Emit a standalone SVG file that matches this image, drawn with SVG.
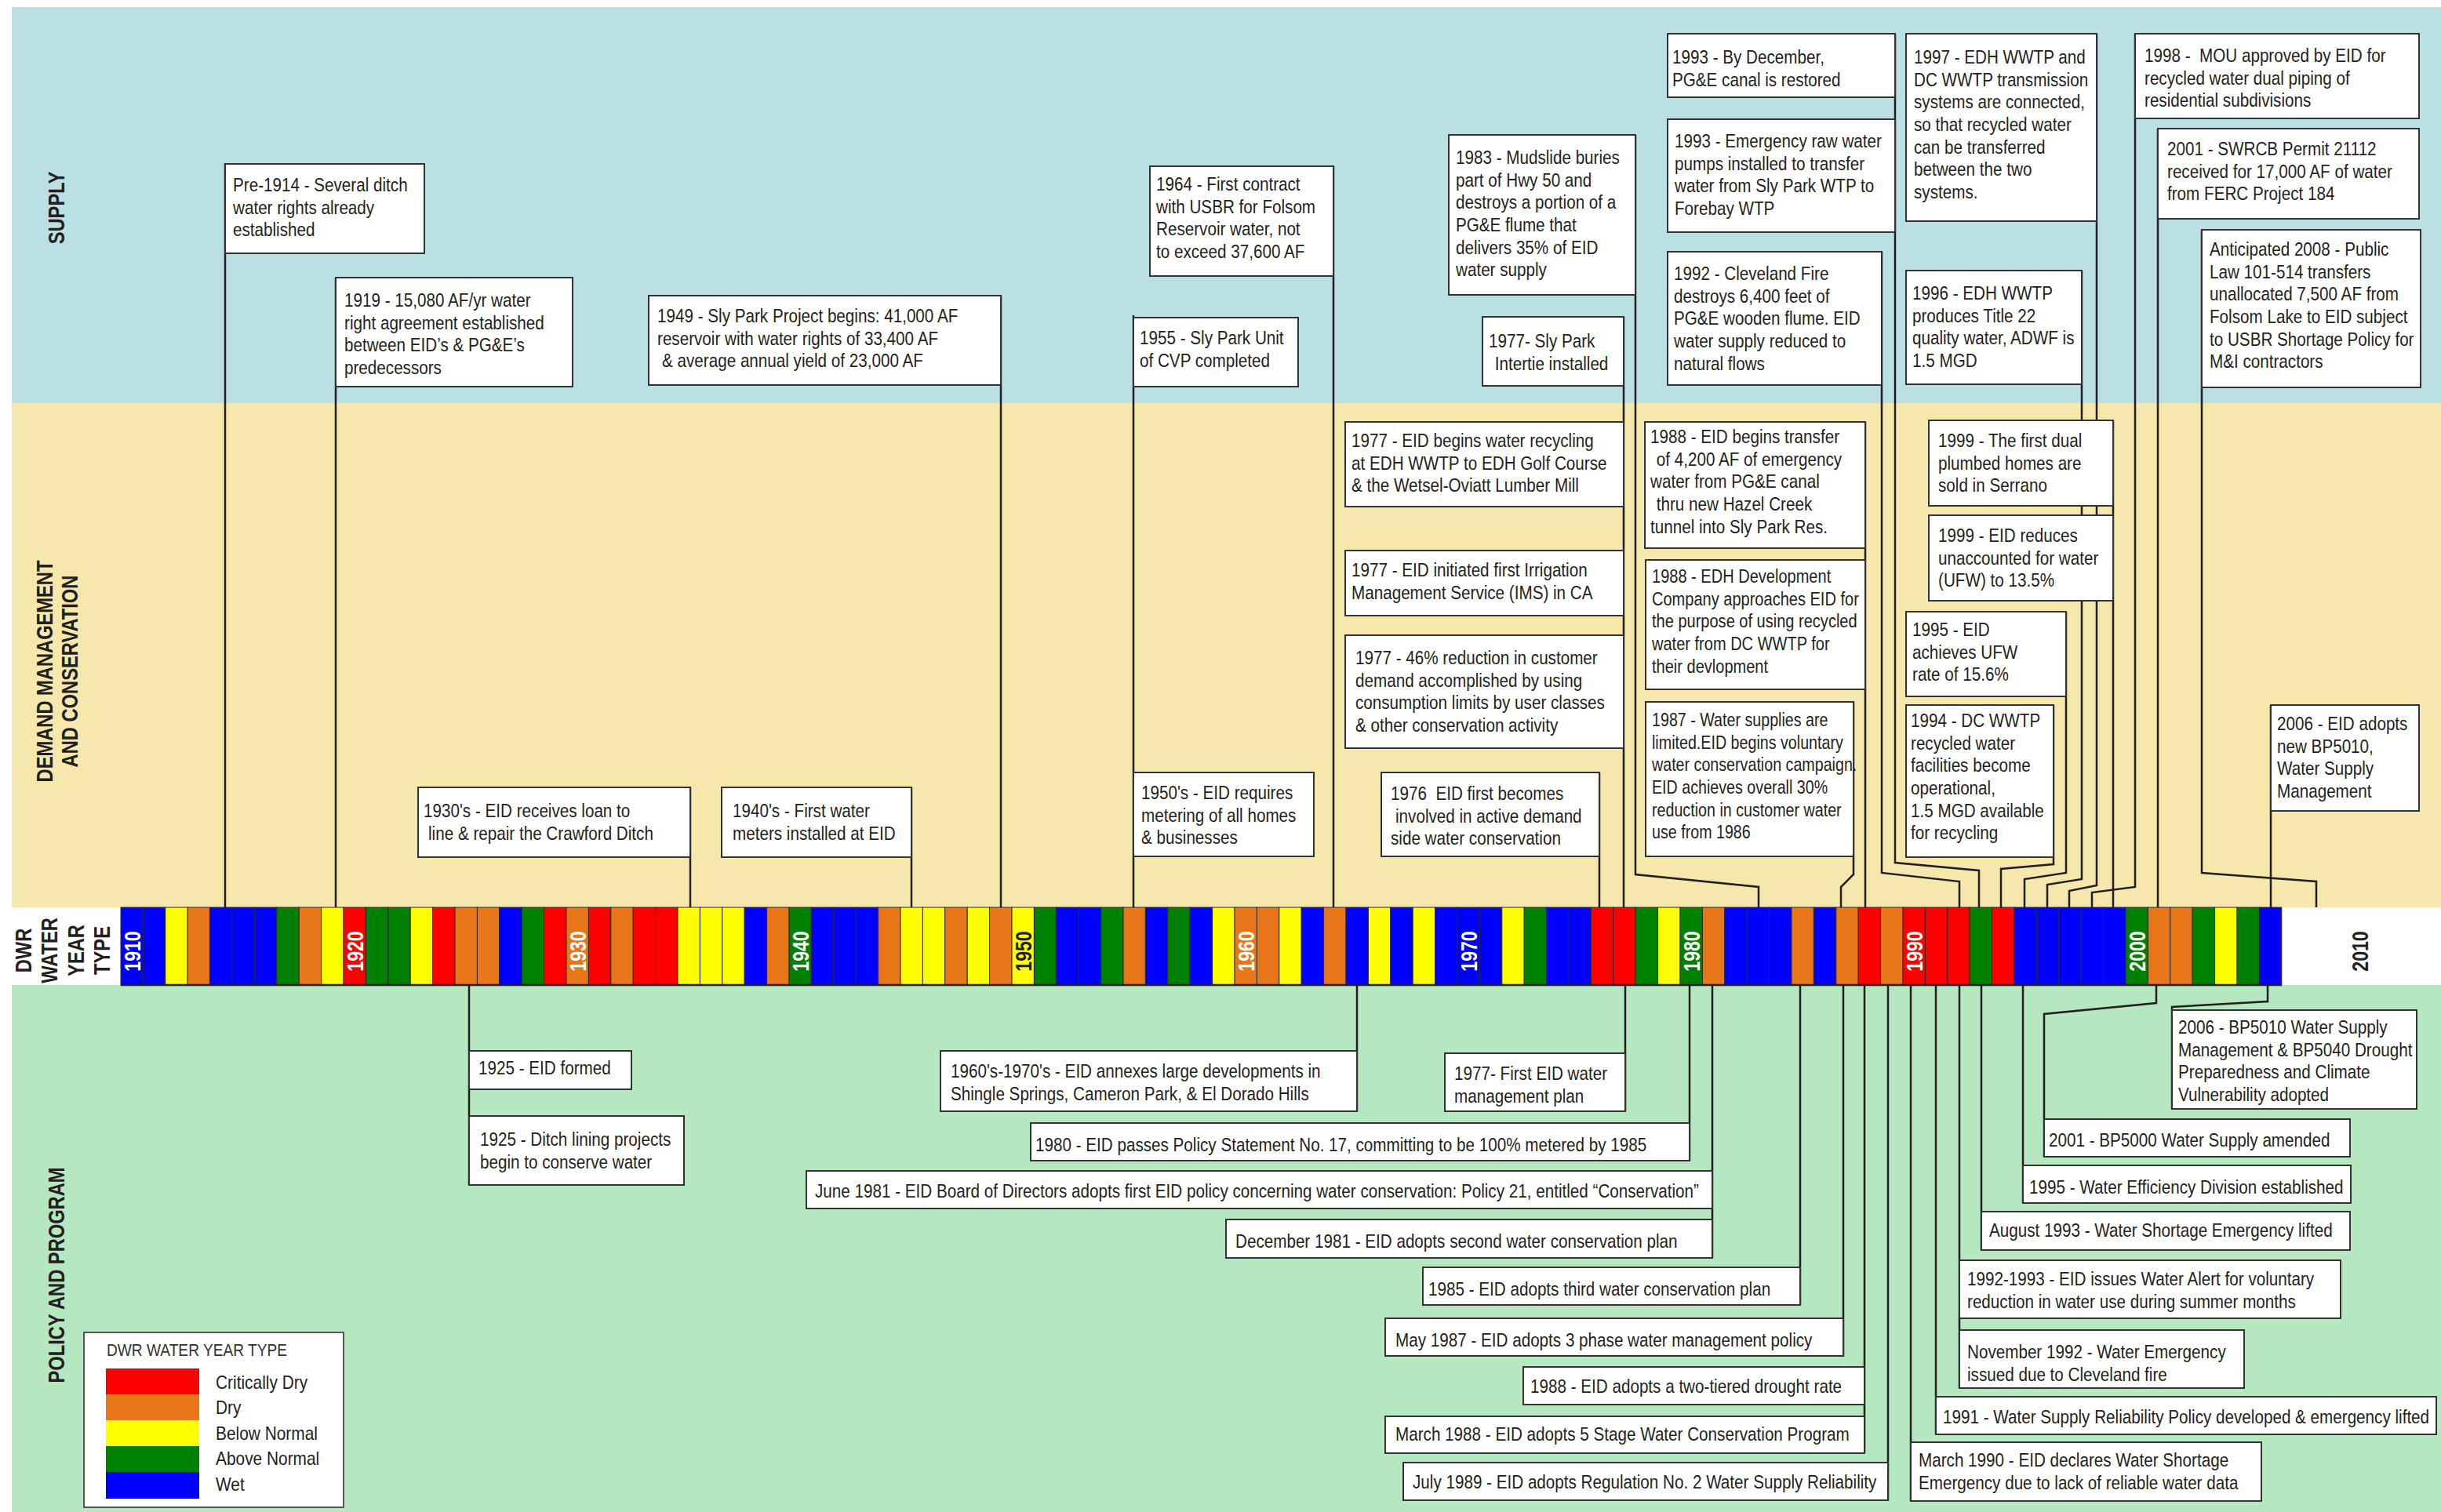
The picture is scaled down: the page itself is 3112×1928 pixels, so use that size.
<svg xmlns="http://www.w3.org/2000/svg" width="3112" height="1928" viewBox="0 0 3112 1928">
<style>
.t{font-family:"Liberation Sans",Arial,sans-serif;font-size:24px;fill:#231f20}
.box{fill:#fff;stroke:#333;stroke-width:2}
.con{fill:none;stroke:#231f20;stroke-width:2.5}
.lbl{font-family:"Liberation Sans",Arial,sans-serif;font-size:30px;font-weight:bold;fill:#231f20}
.yr{font-family:"Liberation Sans",Arial,sans-serif;font-size:30px;font-weight:bold;fill:#fff}
.cell{stroke:#2a2a2a;stroke-width:1}
.C{fill:#ff0000}.D{fill:#e8771a}.BN{fill:#ffff00}.AN{fill:#008000}.W{fill:#0000ff}
</style>
<rect x="0" y="0" width="3112" height="1928" fill="#fff"/>
<g id="backgrounds">
<rect x="15" y="9" width="3097" height="505" fill="#bae0e4"/>
<rect x="15" y="514" width="3097" height="643" fill="#f6e8ac"/>
<rect x="15" y="1256" width="3097" height="672" fill="#b5e8c1"/>
</g>
<g id="section-labels">
<text class="lbl" text-anchor="middle" transform="translate(82,265) rotate(-90) scale(0.79,1)">SUPPLY</text>
<text class="lbl" text-anchor="middle" transform="translate(67,856) rotate(-90) scale(0.79,1)">DEMAND MANAGEMENT</text>
<text class="lbl" text-anchor="middle" transform="translate(99,856) rotate(-90) scale(0.79,1)">AND CONSERVATION</text>
<text class="lbl" text-anchor="middle" transform="translate(82,1626) rotate(-90) scale(0.79,1)">POLICY AND PROGRAM</text>
<text class="lbl" text-anchor="middle" transform="translate(40,1212) rotate(-90) scale(0.79,1)">DWR</text>
<text class="lbl" text-anchor="middle" transform="translate(73,1212) rotate(-90) scale(0.79,1)">WATER</text>
<text class="lbl" text-anchor="middle" transform="translate(107,1212) rotate(-90) scale(0.79,1)">YEAR</text>
<text class="lbl" text-anchor="middle" transform="translate(140,1212) rotate(-90) scale(0.79,1)">TYPE</text>
</g>
<g id="water-year-bar">
<rect class="cell W" x="154" y="1157" width="28.4" height="99"/>
<rect class="cell W" x="182.4" y="1157" width="28.4" height="99"/>
<rect class="cell BN" x="210.8" y="1157" width="28.4" height="99"/>
<rect class="cell D" x="239.2" y="1157" width="28.4" height="99"/>
<rect class="cell W" x="267.6" y="1157" width="28.4" height="99"/>
<rect class="cell W" x="296" y="1157" width="28.4" height="99"/>
<rect class="cell W" x="324.4" y="1157" width="28.4" height="99"/>
<rect class="cell AN" x="352.8" y="1157" width="28.4" height="99"/>
<rect class="cell D" x="381.2" y="1157" width="28.4" height="99"/>
<rect class="cell BN" x="409.6" y="1157" width="28.4" height="99"/>
<rect class="cell C" x="438" y="1157" width="28.4" height="99"/>
<rect class="cell AN" x="466.4" y="1157" width="28.4" height="99"/>
<rect class="cell AN" x="494.8" y="1157" width="28.4" height="99"/>
<rect class="cell BN" x="523.2" y="1157" width="28.4" height="99"/>
<rect class="cell C" x="551.6" y="1157" width="28.4" height="99"/>
<rect class="cell D" x="580" y="1157" width="28.4" height="99"/>
<rect class="cell D" x="608.4" y="1157" width="28.4" height="99"/>
<rect class="cell W" x="636.8" y="1157" width="28.4" height="99"/>
<rect class="cell AN" x="665.2" y="1157" width="28.4" height="99"/>
<rect class="cell C" x="693.6" y="1157" width="28.4" height="99"/>
<rect class="cell D" x="722" y="1157" width="28.4" height="99"/>
<rect class="cell C" x="750.4" y="1157" width="28.4" height="99"/>
<rect class="cell D" x="778.8" y="1157" width="28.4" height="99"/>
<rect class="cell C" x="807.2" y="1157" width="28.4" height="99"/>
<rect class="cell C" x="835.6" y="1157" width="28.4" height="99"/>
<rect class="cell BN" x="864" y="1157" width="28.4" height="99"/>
<rect class="cell BN" x="892.4" y="1157" width="28.4" height="99"/>
<rect class="cell BN" x="920.8" y="1157" width="28.4" height="99"/>
<rect class="cell W" x="949.2" y="1157" width="28.4" height="99"/>
<rect class="cell D" x="977.6" y="1157" width="28.4" height="99"/>
<rect class="cell AN" x="1006" y="1157" width="28.4" height="99"/>
<rect class="cell W" x="1034.4" y="1157" width="28.4" height="99"/>
<rect class="cell W" x="1062.8" y="1157" width="28.4" height="99"/>
<rect class="cell W" x="1091.2" y="1157" width="28.4" height="99"/>
<rect class="cell D" x="1119.6" y="1157" width="28.4" height="99"/>
<rect class="cell BN" x="1148" y="1157" width="28.4" height="99"/>
<rect class="cell BN" x="1176.4" y="1157" width="28.4" height="99"/>
<rect class="cell D" x="1204.8" y="1157" width="28.4" height="99"/>
<rect class="cell BN" x="1233.2" y="1157" width="28.4" height="99"/>
<rect class="cell D" x="1261.6" y="1157" width="28.4" height="99"/>
<rect class="cell BN" x="1290" y="1157" width="28.4" height="99"/>
<rect class="cell AN" x="1318.4" y="1157" width="28.4" height="99"/>
<rect class="cell W" x="1346.8" y="1157" width="28.4" height="99"/>
<rect class="cell W" x="1375.2" y="1157" width="28.4" height="99"/>
<rect class="cell AN" x="1403.6" y="1157" width="28.4" height="99"/>
<rect class="cell D" x="1432" y="1157" width="28.4" height="99"/>
<rect class="cell W" x="1460.4" y="1157" width="28.4" height="99"/>
<rect class="cell AN" x="1488.8" y="1157" width="28.4" height="99"/>
<rect class="cell W" x="1517.2" y="1157" width="28.4" height="99"/>
<rect class="cell BN" x="1545.6" y="1157" width="28.4" height="99"/>
<rect class="cell D" x="1574" y="1157" width="28.4" height="99"/>
<rect class="cell D" x="1602.4" y="1157" width="28.4" height="99"/>
<rect class="cell BN" x="1630.8" y="1157" width="28.4" height="99"/>
<rect class="cell W" x="1659.2" y="1157" width="28.4" height="99"/>
<rect class="cell D" x="1687.6" y="1157" width="28.4" height="99"/>
<rect class="cell W" x="1716" y="1157" width="28.4" height="99"/>
<rect class="cell BN" x="1744.4" y="1157" width="28.4" height="99"/>
<rect class="cell W" x="1772.8" y="1157" width="28.4" height="99"/>
<rect class="cell BN" x="1801.2" y="1157" width="28.4" height="99"/>
<rect class="cell W" x="1829.6" y="1157" width="28.4" height="99"/>
<rect class="cell W" x="1858" y="1157" width="28.4" height="99"/>
<rect class="cell W" x="1886.4" y="1157" width="28.4" height="99"/>
<rect class="cell BN" x="1914.8" y="1157" width="28.4" height="99"/>
<rect class="cell AN" x="1943.2" y="1157" width="28.4" height="99"/>
<rect class="cell W" x="1971.6" y="1157" width="28.4" height="99"/>
<rect class="cell W" x="2000" y="1157" width="28.4" height="99"/>
<rect class="cell C" x="2028.4" y="1157" width="28.4" height="99"/>
<rect class="cell C" x="2056.8" y="1157" width="28.4" height="99"/>
<rect class="cell AN" x="2085.2" y="1157" width="28.4" height="99"/>
<rect class="cell BN" x="2113.6" y="1157" width="28.4" height="99"/>
<rect class="cell AN" x="2142" y="1157" width="28.4" height="99"/>
<rect class="cell D" x="2170.4" y="1157" width="28.4" height="99"/>
<rect class="cell W" x="2198.8" y="1157" width="28.4" height="99"/>
<rect class="cell W" x="2227.2" y="1157" width="28.4" height="99"/>
<rect class="cell W" x="2255.6" y="1157" width="28.4" height="99"/>
<rect class="cell D" x="2284" y="1157" width="28.4" height="99"/>
<rect class="cell W" x="2312.4" y="1157" width="28.4" height="99"/>
<rect class="cell D" x="2340.8" y="1157" width="28.4" height="99"/>
<rect class="cell C" x="2369.2" y="1157" width="28.4" height="99"/>
<rect class="cell D" x="2397.6" y="1157" width="28.4" height="99"/>
<rect class="cell C" x="2426" y="1157" width="28.4" height="99"/>
<rect class="cell C" x="2454.4" y="1157" width="28.4" height="99"/>
<rect class="cell C" x="2482.8" y="1157" width="28.4" height="99"/>
<rect class="cell AN" x="2511.2" y="1157" width="28.4" height="99"/>
<rect class="cell C" x="2539.6" y="1157" width="28.4" height="99"/>
<rect class="cell W" x="2568" y="1157" width="28.4" height="99"/>
<rect class="cell W" x="2596.4" y="1157" width="28.4" height="99"/>
<rect class="cell W" x="2624.8" y="1157" width="28.4" height="99"/>
<rect class="cell W" x="2653.2" y="1157" width="28.4" height="99"/>
<rect class="cell W" x="2681.6" y="1157" width="28.4" height="99"/>
<rect class="cell AN" x="2710" y="1157" width="28.4" height="99"/>
<rect class="cell D" x="2738.4" y="1157" width="28.4" height="99"/>
<rect class="cell D" x="2766.8" y="1157" width="28.4" height="99"/>
<rect class="cell AN" x="2795.2" y="1157" width="28.4" height="99"/>
<rect class="cell BN" x="2823.6" y="1157" width="28.4" height="99"/>
<rect class="cell AN" x="2852" y="1157" width="28.4" height="99"/>
<rect class="cell W" x="2880.4" y="1157" width="28.4" height="99"/>
<line x1="154" y1="1256" x2="2909" y2="1256" stroke="#231f20" stroke-width="2.5"/>
<text class="yr" text-anchor="middle" transform="translate(179.2,1213) rotate(-90) scale(0.77,1)">1910</text>
<text class="yr" text-anchor="middle" transform="translate(463.2,1213) rotate(-90) scale(0.77,1)">1920</text>
<text class="yr" text-anchor="middle" transform="translate(747.2,1213) rotate(-90) scale(0.77,1)">1930</text>
<text class="yr" text-anchor="middle" transform="translate(1031.2,1213) rotate(-90) scale(0.77,1)">1940</text>
<text class="yr" text-anchor="middle" style="fill:#231f20" transform="translate(1315.2,1213) rotate(-90) scale(0.77,1)">1950</text>
<text class="yr" text-anchor="middle" transform="translate(1599.2,1213) rotate(-90) scale(0.77,1)">1960</text>
<text class="yr" text-anchor="middle" transform="translate(1883.2,1213) rotate(-90) scale(0.77,1)">1970</text>
<text class="yr" text-anchor="middle" transform="translate(2167.2,1213) rotate(-90) scale(0.77,1)">1980</text>
<text class="yr" text-anchor="middle" transform="translate(2451.2,1213) rotate(-90) scale(0.77,1)">1990</text>
<text class="yr" text-anchor="middle" transform="translate(2735.2,1213) rotate(-90) scale(0.77,1)">2000</text>
<text class="yr" text-anchor="middle" style="fill:#231f20" transform="translate(3019.2,1213) rotate(-90) scale(0.77,1)">2010</text>
</g>
<g id="connectors">
<path class="con" d="M287,209V1157"/>
<path class="con" d="M428,354V1157"/>
<path class="con" d="M1276,377V1157"/>
<path class="con" d="M1700,212V1157"/>
<path class="con" d="M1445,402V1157"/>
<path class="con" d="M2085,172V1115L2242,1131V1157"/>
<path class="con" d="M2070,404V1157"/>
<path class="con" d="M2416,43V1100L2523,1110V1157"/>
<path class="con" d="M2399,321V1113L2498,1124V1157"/>
<path class="con" d="M2673,43V1129L2638,1136V1157"/>
<path class="con" d="M2654,345V1121L2610,1128V1157"/>
<path class="con" d="M2722,43V1131L2667,1138V1157"/>
<path class="con" d="M2751,164V1157"/>
<path class="con" d="M2807,293V1113L2953,1124V1157"/>
<path class="con" d="M880,1004V1157"/>
<path class="con" d="M1162,1004V1157"/>
<path class="con" d="M2039,985V1157"/>
<path class="con" d="M2378,538V1157"/>
<path class="con" d="M2363,895V1115L2347,1131V1157"/>
<path class="con" d="M2694,536V1157"/>
<path class="con" d="M2634,780V1113L2581,1121V1157"/>
<path class="con" d="M2618,899V1102L2551,1108V1157"/>
<path class="con" d="M2895,899V1157"/>
<path class="con" d="M598,1256V1511"/>
<path class="con" d="M1730,1256V1417"/>
<path class="con" d="M2072,1256V1417"/>
<path class="con" d="M2154,1256V1480"/>
<path class="con" d="M2183,1256V1604"/>
<path class="con" d="M2295,1256V1664"/>
<path class="con" d="M2350,1256V1729"/>
<path class="con" d="M2377,1256V1853"/>
<path class="con" d="M2407,1256V1913"/>
<path class="con" d="M2436,1256V1914"/>
<path class="con" d="M2468,1256V1829"/>
<path class="con" d="M2498,1256V1770"/>
<path class="con" d="M2526,1256V1594"/>
<path class="con" d="M2579,1256V1534"/>
<path class="con" d="M2749,1256V1279L2606,1293V1475"/>
<path class="con" d="M2891,1256V1277L2769,1284V1414"/>
</g>
<g id="n-pre1914"><rect class="box" x="287" y="209" width="254" height="114"/><text class="t" transform="translate(297,244) scale(0.861,1)"><tspan x="0" y="0">Pre-1914 - Several ditch</tspan><tspan x="0" y="28.7">water rights already</tspan><tspan x="0" y="57.4">established</tspan></text></g>
<g id="n-1919"><rect class="box" x="428" y="354" width="302" height="139"/><text class="t" transform="translate(439,391) scale(0.861,1)"><tspan x="0" y="0">1919 - 15,080 AF/yr water</tspan><tspan x="0" y="28.7">right agreement established</tspan><tspan x="0" y="57.4">between EID’s &amp; PG&amp;E’s</tspan><tspan x="0" y="86.1">predecessors</tspan></text></g>
<g id="n-1949"><rect class="box" x="827" y="377" width="449" height="114"/><text class="t" transform="translate(838,411) scale(0.861,1)"><tspan x="0" y="0">1949 - Sly Park Project begins: 41,000 AF</tspan><tspan x="0" y="28.7">reservoir with water rights of 33,400 AF</tspan><tspan x="7" y="57.4">&amp; average annual yield of 23,000 AF</tspan></text></g>
<g id="n-1964"><rect class="box" x="1466" y="212" width="234" height="140"/><text class="t" transform="translate(1474,243) scale(0.861,1)"><tspan x="0" y="0">1964 - First contract</tspan><tspan x="0" y="28.7">with USBR for Folsom</tspan><tspan x="0" y="57.4">Reservoir water, not</tspan><tspan x="0" y="86.1">to exceed 37,600 AF</tspan></text></g>
<g id="n-1955"><rect class="box" x="1445" y="405" width="210" height="88"/><text class="t" transform="translate(1453,439) scale(0.861,1)"><tspan x="0" y="0">1955 - Sly Park Unit</tspan><tspan x="0" y="28.7">of CVP completed</tspan></text></g>
<g id="n-1983"><rect class="box" x="1847" y="172" width="238" height="204"/><text class="t" transform="translate(1856,209) scale(0.861,1)"><tspan x="0" y="0">1983 - Mudslide buries</tspan><tspan x="0" y="28.7">part of Hwy 50 and</tspan><tspan x="0" y="57.4">destroys a portion of a</tspan><tspan x="0" y="86.1">PG&amp;E flume that</tspan><tspan x="0" y="114.8">delivers 35% of EID</tspan><tspan x="0" y="143.5">water supply</tspan></text></g>
<g id="n-1977sly"><rect class="box" x="1890" y="404" width="180" height="88"/><text class="t" transform="translate(1898,443) scale(0.861,1)"><tspan x="0" y="0">1977- Sly Park</tspan><tspan x="9" y="28.7">Intertie installed</tspan></text></g>
<g id="n-1993dec"><rect class="box" x="2126" y="43" width="290" height="81"/><text class="t" transform="translate(2132,81) scale(0.861,1)"><tspan x="0" y="0">1993 - By December,</tspan><tspan x="0" y="28.7">PG&amp;E canal is restored</tspan></text></g>
<g id="n-1993pumps"><rect class="box" x="2126" y="152" width="290" height="144"/><text class="t" transform="translate(2135,188) scale(0.861,1)"><tspan x="0" y="0">1993 - Emergency raw water</tspan><tspan x="0" y="28.7">pumps installed to transfer</tspan><tspan x="0" y="57.4">water from Sly Park WTP to</tspan><tspan x="0" y="86.1">Forebay WTP</tspan></text></g>
<g id="n-1992fire"><rect class="box" x="2126" y="321" width="273" height="170"/><text class="t" transform="translate(2134,357) scale(0.861,1)"><tspan x="0" y="0">1992 - Cleveland Fire</tspan><tspan x="0" y="28.7">destroys 6,400 feet of</tspan><tspan x="0" y="57.4">PG&amp;E wooden flume. EID</tspan><tspan x="0" y="86.1">water supply reduced to</tspan><tspan x="0" y="114.8">natural flows</tspan></text></g>
<g id="n-1997"><rect class="box" x="2430" y="43" width="243" height="239"/><text class="t" transform="translate(2440,81) scale(0.861,1)"><tspan x="0" y="0">1997 - EDH WWTP and</tspan><tspan x="0" y="28.7">DC WWTP transmission</tspan><tspan x="0" y="57.4">systems are connected,</tspan><tspan x="0" y="86.1">so that recycled water</tspan><tspan x="0" y="114.8">can be transferred</tspan><tspan x="0" y="143.5">between the two</tspan><tspan x="0" y="172.2">systems.</tspan></text></g>
<g id="n-1996"><rect class="box" x="2430" y="345" width="224" height="145"/><text class="t" transform="translate(2438,382) scale(0.861,1)"><tspan x="0" y="0">1996 - EDH WWTP</tspan><tspan x="0" y="28.7">produces Title 22</tspan><tspan x="0" y="57.4">quality water, ADWF is</tspan><tspan x="0" y="86.1">1.5 MGD</tspan></text></g>
<g id="n-1998mou"><rect class="box" x="2722" y="43" width="362" height="108"/><text class="t" style="white-space:pre" transform="translate(2734,79) scale(0.861,1)"><tspan x="0" y="0">1998 -  MOU approved by EID for</tspan><tspan x="0" y="28.7">recycled water dual piping of</tspan><tspan x="0" y="57.4">residential subdivisions</tspan></text></g>
<g id="n-2001swrcb"><rect class="box" x="2751" y="164" width="333" height="115"/><text class="t" transform="translate(2763,198) scale(0.861,1)"><tspan x="0" y="0">2001 - SWRCB Permit 21112</tspan><tspan x="0" y="28.7">received for 17,000 AF of water</tspan><tspan x="0" y="57.4">from FERC Project 184</tspan></text></g>
<g id="n-2008"><rect class="box" x="2807" y="293" width="279" height="201"/><text class="t" transform="translate(2817,326) scale(0.861,1)"><tspan x="0" y="0">Anticipated 2008 - Public</tspan><tspan x="0" y="28.7">Law 101-514 transfers</tspan><tspan x="0" y="57.4">unallocated 7,500 AF from</tspan><tspan x="0" y="86.1">Folsom Lake to EID subject</tspan><tspan x="0" y="114.8">to USBR Shortage Policy for</tspan><tspan x="0" y="143.5">M&amp;I contractors</tspan></text></g>
<g id="n-1930s"><rect class="box" x="533" y="1004" width="347" height="89"/><text class="t" transform="translate(540,1042) scale(0.861,1)"><tspan x="0" y="0">1930's - EID receives loan to</tspan><tspan x="7" y="28.7">line &amp; repair the Crawford Ditch</tspan></text></g>
<g id="n-1940s"><rect class="box" x="920" y="1004" width="242" height="89"/><text class="t" transform="translate(934,1042) scale(0.861,1)"><tspan x="0" y="0">1940's - First water</tspan><tspan x="0" y="28.7">meters installed at EID</tspan></text></g>
<g id="n-1950s"><rect class="box" x="1445" y="985" width="230" height="107"/><text class="t" transform="translate(1455,1019) scale(0.861,1)"><tspan x="0" y="0">1950's - EID requires</tspan><tspan x="0" y="28.7">metering of all homes</tspan><tspan x="0" y="57.4">&amp; businesses</tspan></text></g>
<g id="n-1977recycle"><rect class="box" x="1715" y="538" width="355" height="108"/><text class="t" transform="translate(1723,570) scale(0.861,1)"><tspan x="0" y="0">1977 - EID begins water recycling</tspan><tspan x="0" y="28.7">at EDH WWTP to EDH Golf Course</tspan><tspan x="0" y="57.4">&amp; the Wetsel-Oviatt Lumber Mill</tspan></text></g>
<g id="n-1977ims"><rect class="box" x="1715" y="702" width="355" height="83"/><text class="t" transform="translate(1723,735) scale(0.861,1)"><tspan x="0" y="0">1977 - EID initiated first Irrigation</tspan><tspan x="0" y="28.7">Management Service (IMS) in CA</tspan></text></g>
<g id="n-1977reduction"><rect class="box" x="1715" y="810" width="355" height="144"/><text class="t" transform="translate(1728,847) scale(0.861,1)"><tspan x="0" y="0">1977 - 46% reduction in customer</tspan><tspan x="0" y="28.7">demand accomplished by using</tspan><tspan x="0" y="57.4">consumption limits by user classes</tspan><tspan x="0" y="86.1">&amp; other conservation activity</tspan></text></g>
<g id="n-1976"><rect class="box" x="1761" y="985" width="278" height="107"/><text class="t" style="white-space:pre" transform="translate(1773,1020) scale(0.861,1)"><tspan x="0" y="0">1976  EID first becomes</tspan><tspan x="7" y="28.7">involved in active demand</tspan><tspan x="0" y="57.4">side water conservation</tspan></text></g>
<g id="n-1988transfer"><rect class="box" x="2097" y="538" width="281" height="161"/><text class="t" transform="translate(2104,565) scale(0.861,1)"><tspan x="0" y="0">1988 - EID begins transfer</tspan><tspan x="9" y="28.7">of 4,200 AF of emergency</tspan><tspan x="0" y="57.4">water from PG&amp;E canal</tspan><tspan x="9" y="86.1">thru new Hazel Creek</tspan><tspan x="0" y="114.8">tunnel into Sly Park Res.</tspan></text></g>
<g id="n-1988edh"><rect class="box" x="2098" y="714" width="280" height="165"/><text class="t" transform="translate(2106,743) scale(0.835,1)"><tspan x="0" y="0">1988 - EDH Development</tspan><tspan x="0" y="28.7">Company approaches EID for</tspan><tspan x="0" y="57.4">the purpose of using recycled</tspan><tspan x="0" y="86.1">water from DC WWTP for</tspan><tspan x="0" y="114.8">their devlopment</tspan></text></g>
<g id="n-1987"><rect class="box" x="2098" y="895" width="265" height="197"/><text class="t" transform="translate(2106,926) scale(0.82,1)"><tspan x="0" y="0">1987 - Water supplies are</tspan><tspan x="0" y="28.7">limited.EID begins voluntary</tspan><tspan x="0" y="57.4">water conservation campaign.</tspan><tspan x="0" y="86.1">EID achieves overall 30%</tspan><tspan x="0" y="114.8">reduction in customer water</tspan><tspan x="0" y="143.5">use from 1986</tspan></text></g>
<g id="n-1999dual"><rect class="box" x="2459" y="536" width="235" height="109"/><text class="t" transform="translate(2471,570) scale(0.861,1)"><tspan x="0" y="0">1999 - The first dual</tspan><tspan x="0" y="28.7">plumbed homes are</tspan><tspan x="0" y="57.4">sold in Serrano</tspan></text></g>
<g id="n-1999ufw"><rect class="box" x="2459" y="657" width="235" height="109"/><text class="t" transform="translate(2471,691) scale(0.861,1)"><tspan x="0" y="0">1999 - EID reduces</tspan><tspan x="0" y="28.7">unaccounted for water</tspan><tspan x="0" y="57.4">(UFW) to 13.5%</tspan></text></g>
<g id="n-1995ufw"><rect class="box" x="2430" y="780" width="204" height="108"/><text class="t" transform="translate(2438,811) scale(0.861,1)"><tspan x="0" y="0">1995 - EID</tspan><tspan x="0" y="28.7">achieves UFW</tspan><tspan x="0" y="57.4">rate of 15.6%</tspan></text></g>
<g id="n-1994"><rect class="box" x="2430" y="899" width="188" height="194"/><text class="t" transform="translate(2436,927) scale(0.861,1)"><tspan x="0" y="0">1994 - DC WWTP</tspan><tspan x="0" y="28.7">recycled water</tspan><tspan x="0" y="57.4">facilities become</tspan><tspan x="0" y="86.1">operational,</tspan><tspan x="0" y="114.8">1.5 MGD available</tspan><tspan x="0" y="143.5">for recycling</tspan></text></g>
<g id="n-2006eid"><rect class="box" x="2895" y="899" width="189" height="135"/><text class="t" transform="translate(2903,931) scale(0.861,1)"><tspan x="0" y="0">2006 - EID adopts</tspan><tspan x="0" y="28.7">new BP5010,</tspan><tspan x="0" y="57.4">Water Supply</tspan><tspan x="0" y="86.1">Management</tspan></text></g>
<g id="n-1925formed"><rect class="box" x="598" y="1340" width="207" height="49"/><text class="t" transform="translate(610,1370) scale(0.861,1)">1925 - EID formed</text></g>
<g id="n-1925ditch"><rect class="box" x="598" y="1423" width="274" height="88"/><text class="t" transform="translate(612,1461) scale(0.861,1)"><tspan x="0" y="0">1925 - Ditch lining projects</tspan><tspan x="0" y="28.7">begin to conserve water</tspan></text></g>
<g id="n-1960s"><rect class="box" x="1199" y="1340" width="531" height="77"/><text class="t" transform="translate(1212,1374) scale(0.861,1)"><tspan x="0" y="0">1960's-1970's - EID annexes large developments in</tspan><tspan x="0" y="28.7">Shingle Springs, Cameron Park, &amp; El Dorado Hills</tspan></text></g>
<g id="n-1977plan"><rect class="box" x="1842" y="1343" width="230" height="74"/><text class="t" transform="translate(1854,1377) scale(0.861,1)"><tspan x="0" y="0">1977- First EID water</tspan><tspan x="0" y="28.7">management plan</tspan></text></g>
<g id="n-1980"><rect class="box" x="1314" y="1432" width="840" height="48"/><text class="t" transform="translate(1320,1468) scale(0.861,1)">1980 - EID passes Policy Statement No. 17, committing to be 100% metered by 1985</text></g>
<g id="n-june1981"><rect class="box" x="1028" y="1493" width="1155" height="48"/><text class="t" transform="translate(1039,1527) scale(0.861,1)">June 1981 - EID Board of Directors adopts first EID policy concerning water conservation: Policy 21, entitled “Conservation”</text></g>
<g id="n-dec1981"><rect class="box" x="1563" y="1555" width="620" height="49"/><text class="t" transform="translate(1575,1591) scale(0.861,1)">December 1981 - EID adopts second water conservation plan</text></g>
<g id="n-1985"><rect class="box" x="1814" y="1616" width="481" height="48"/><text class="t" transform="translate(1821,1652) scale(0.861,1)">1985 - EID adopts third water conservation plan</text></g>
<g id="n-may1987"><rect class="box" x="1766" y="1681" width="584" height="48"/><text class="t" transform="translate(1779,1717) scale(0.861,1)">May 1987 - EID adopts 3 phase water management policy</text></g>
<g id="n-1988rate"><rect class="box" x="1942" y="1743" width="435" height="48"/><text class="t" transform="translate(1951,1776) scale(0.861,1)">1988 - EID adopts a two-tiered drought rate</text></g>
<g id="n-march1988"><rect class="box" x="1766" y="1806" width="611" height="47"/><text class="t" transform="translate(1779,1837) scale(0.861,1)">March 1988 - EID adopts 5 Stage Water Conservation Program</text></g>
<g id="n-july1989"><rect class="box" x="1789" y="1865" width="618" height="48"/><text class="t" transform="translate(1801,1898) scale(0.861,1)">July 1989 - EID adopts Regulation No. 2 Water Supply Reliability</text></g>
<g id="n-march1990"><rect class="box" x="2436" y="1839" width="447" height="75"/><text class="t" transform="translate(2446,1870) scale(0.861,1)"><tspan x="0" y="0">March 1990 - EID declares Water Shortage</tspan><tspan x="0" y="28.7">Emergency due to lack of reliable water data</tspan></text></g>
<g id="n-1991"><rect class="box" x="2468" y="1781" width="638" height="48"/><text class="t" transform="translate(2477,1815) scale(0.861,1)">1991 - Water Supply Reliability Policy developed &amp; emergency lifted</text></g>
<g id="n-nov1992"><rect class="box" x="2498" y="1696" width="363" height="74"/><text class="t" transform="translate(2508,1732) scale(0.861,1)"><tspan x="0" y="0">November 1992 - Water Emergency</tspan><tspan x="0" y="28.7">issued due to Cleveland fire</tspan></text></g>
<g id="n-1992alert"><rect class="box" x="2498" y="1607" width="486" height="74"/><text class="t" transform="translate(2508,1639) scale(0.861,1)"><tspan x="0" y="0">1992-1993 - EID issues Water Alert for voluntary</tspan><tspan x="0" y="28.7">reduction in water use during summer months</tspan></text></g>
<g id="n-aug1993"><rect class="box" x="2526" y="1545" width="470" height="49"/><text class="t" transform="translate(2536,1577) scale(0.861,1)">August 1993 - Water Shortage Emergency lifted</text></g>
<g id="n-1995div"><rect class="box" x="2579" y="1486" width="418" height="48"/><text class="t" transform="translate(2587,1522) scale(0.861,1)">1995 - Water Efficiency Division established</text></g>
<g id="n-2001bp"><rect class="box" x="2606" y="1427" width="390" height="48"/><text class="t" transform="translate(2612,1462) scale(0.861,1)">2001 - BP5000 Water Supply amended</text></g>
<g id="n-2006bp"><rect class="box" x="2769" y="1288" width="312" height="126"/><text class="t" transform="translate(2777,1318) scale(0.861,1)"><tspan x="0" y="0">2006 - BP5010 Water Supply</tspan><tspan x="0" y="28.7">Management &amp; BP5040 Drought</tspan><tspan x="0" y="57.4">Preparedness and Climate</tspan><tspan x="0" y="86.1">Vulnerability adopted</tspan></text></g>
<g id="legend">
<rect x="107" y="1699" width="331" height="223" fill="#fff" stroke="#555" stroke-width="2"/>
<text class="t" style="font-size:22px;fill:#333" transform="translate(136,1729) scale(0.87,1)">DWR WATER YEAR TYPE</text>
<rect class="C" x="135" y="1745" width="119" height="33"/>
<rect class="D" x="135" y="1778" width="119" height="33"/>
<rect class="BN" x="135" y="1811" width="119" height="33"/>
<rect class="AN" x="135" y="1844" width="119" height="33"/>
<rect class="W" x="135" y="1877" width="119" height="34"/>
<text class="t" transform="translate(275,1771) scale(0.87,1)">Critically Dry</text>
<text class="t" transform="translate(275,1803) scale(0.87,1)">Dry</text>
<text class="t" transform="translate(275,1836) scale(0.87,1)">Below Normal</text>
<text class="t" transform="translate(275,1868) scale(0.87,1)">Above Normal</text>
<text class="t" transform="translate(275,1901) scale(0.87,1)">Wet</text>
</g>
</svg>
